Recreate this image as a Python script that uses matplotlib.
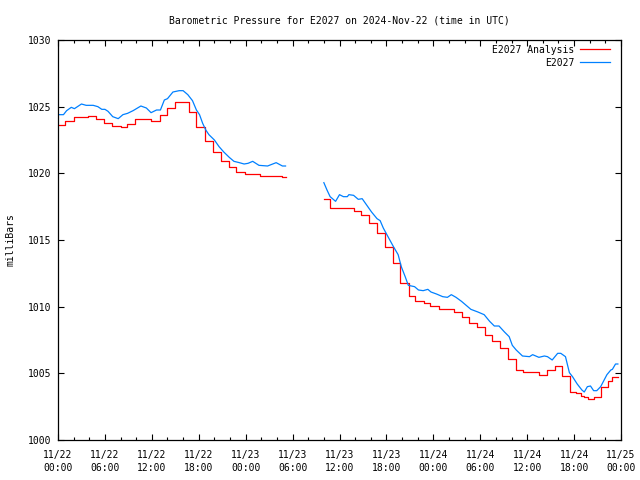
import numpy as np
import pandas as pd
import matplotlib
matplotlib.use("Agg")
import matplotlib.pyplot as plt
import matplotlib.dates as mdates

# ---- data (hours after 2024-11-22 00:00 UTC, pressure in mb) ----
analysis_hours_1 = [0.0, 0.9, 2.0, 3.8, 4.8, 5.9, 6.9, 8.0, 8.8, 9.8, 11.9, 13.0, 13.9,
                    14.9, 16.8, 17.6, 18.8, 19.8, 20.8, 21.9, 22.8, 23.9, 25.8, 28.6, 29.1]
analysis_vals_1 = [1023.63, 1023.95, 1024.2, 1024.3, 1024.1, 1023.8, 1023.55, 1023.45,
                   1023.7, 1024.05, 1023.95, 1024.4, 1024.9, 1025.35, 1024.6, 1023.45,
                   1022.4, 1021.6, 1020.9, 1020.45, 1020.1, 1019.95, 1019.8, 1019.7, 1019.7]
analysis_hours_2 = [34.0, 34.8, 37.8, 38.7, 39.8, 40.8, 41.8, 42.8, 43.7, 44.9, 45.7, 46.8,
                    47.6, 48.7, 50.6, 51.7, 52.5, 53.6, 54.6, 55.5, 56.5, 57.5, 58.6, 59.5,
                    61.5, 62.6, 63.5, 64.5, 65.5, 66.3, 66.9, 67.3, 67.8, 68.6, 69.4, 70.3,
                    70.8, 71.6]
analysis_vals_2 = [1018.1, 1017.4, 1017.2, 1016.9, 1016.25, 1015.55, 1014.45, 1013.3,
                   1011.8, 1010.8, 1010.45, 1010.25, 1010.05, 1009.8, 1009.6, 1009.2,
                   1008.75, 1008.45, 1007.9, 1007.4, 1006.9, 1006.05, 1005.25, 1005.1,
                   1004.9, 1005.25, 1005.55, 1004.8, 1003.6, 1003.5, 1003.3, 1003.2,
                   1003.05, 1003.25, 1004.0, 1004.4, 1004.7, 1004.7]

obs_hours_1 = [0.0, 0.7, 1.1, 1.7, 2.1, 3.0, 3.6, 4.5, 5.1, 5.6, 6.0, 6.4, 7.0, 7.7, 8.3,
               8.9, 9.6, 10.6, 11.3, 11.9, 12.6, 13.1, 13.6, 14.0, 14.7, 15.5, 16.0, 16.6,
               17.2, 17.7, 18.1, 18.5, 18.9, 19.3, 20.0, 20.6, 21.2, 21.9, 22.5, 23.2,
               23.8, 24.3, 24.9, 25.7, 26.8, 27.9, 28.7, 29.1]
obs_vals_1 = [1024.4, 1024.4, 1024.7, 1024.95, 1024.85, 1025.2, 1025.1, 1025.1, 1025.0,
              1024.8, 1024.8, 1024.65, 1024.25, 1024.1, 1024.4, 1024.5, 1024.7, 1025.05,
              1024.9, 1024.55, 1024.75, 1024.75, 1025.5, 1025.6, 1026.1, 1026.2, 1026.2,
              1025.9, 1025.45, 1024.75, 1024.4, 1023.75, 1023.25, 1022.9, 1022.5, 1022.0,
              1021.6, 1021.2, 1020.9, 1020.8, 1020.7, 1020.75, 1020.9, 1020.6, 1020.55,
              1020.8, 1020.55, 1020.55]
obs_hours_2 = [34.0, 34.4, 34.8, 35.5, 36.0, 36.5, 37.0, 37.2, 37.8, 38.4, 38.9, 39.5,
               40.1, 40.8, 41.2, 41.6, 42.2, 42.9, 43.5, 43.9, 44.4, 44.8, 45.6, 46.1,
               46.7, 47.3, 47.7, 48.4, 49.2, 49.8, 50.3, 50.9, 51.6, 52.2, 52.8, 53.7,
               54.5, 55.2, 55.8, 56.4, 57.1, 57.7, 58.1, 58.6, 59.4, 60.3, 60.7, 61.5,
               62.2, 62.6, 63.2, 63.9, 64.3, 64.9, 65.4, 65.8, 66.4, 67.0, 67.3, 67.7,
               68.1, 68.5, 68.9, 69.4, 69.8, 70.2, 70.7, 70.9, 71.3, 71.6]
obs_vals_2 = [1019.3, 1018.75, 1018.25, 1017.9, 1018.4, 1018.25, 1018.25, 1018.4, 1018.35,
              1018.05, 1018.1, 1017.6, 1017.1, 1016.6, 1016.45, 1015.9, 1015.25, 1014.5,
              1013.9, 1013.0, 1012.25, 1011.6, 1011.5, 1011.25, 1011.2, 1011.3, 1011.1,
              1010.95, 1010.75, 1010.7, 1010.9, 1010.7, 1010.4, 1010.1, 1009.8, 1009.6,
              1009.4, 1008.9, 1008.55, 1008.55, 1008.1, 1007.75, 1007.1, 1006.75, 1006.3,
              1006.25, 1006.4, 1006.2, 1006.3, 1006.25, 1006.0, 1006.5, 1006.5, 1006.25,
              1005.05, 1004.75, 1004.2, 1003.75, 1003.6, 1004.0, 1004.05, 1003.7, 1003.7,
              1004.0, 1004.45, 1004.9, 1005.25, 1005.3, 1005.7, 1005.7]

title = "Barometric Pressure for E2027 on 2024-Nov-22 (time in UTC)"
ylabel = "milliBars"
labels = ["E2027 Analysis", "E2027"]
start = pd.Timestamp("2024-11-22 00:00")
end = pd.Timestamp("2024-11-25 00:00")
y_min, y_max = 1000, 1030
red = "#ff0000"
blue = "#0080ff"

def to_times(hours):
    return pd.to_datetime([start + pd.Timedelta(hours=h) for h in hours])

plt.rcParams['font.family'] = ['DejaVu Sans Mono']
fs = 7
lw = 0.9

fig = plt.figure(figsize=(6.4, 4.8), dpi=100)
ax = fig.add_axes([58/640, 40/480, (621-58)/640, 400/480])

ax.plot(to_times(analysis_hours_1), analysis_vals_1, color=red, lw=lw,
        drawstyle="steps-post", label=labels[0])
ax.plot(to_times(analysis_hours_2), analysis_vals_2, color=red, lw=lw,
        drawstyle="steps-post")
ax.plot(to_times(obs_hours_1), obs_vals_1, color=blue, lw=lw, label=labels[1])
ax.plot(to_times(obs_hours_2), obs_vals_2, color=blue, lw=lw)

ax.set_xlim(start, end)
ax.set_ylim(y_min, y_max)
ax.set_yticks(np.arange(y_min, y_max + 1, 5))
ax.xaxis.set_major_locator(mdates.HourLocator(byhour=[0, 6, 12, 18]))
ax.xaxis.set_minor_locator(mdates.HourLocator(byhour=range(0, 24, 2)))
ax.xaxis.set_major_formatter(mdates.DateFormatter("%m/%d\n%H:%M"))

ax.tick_params(axis='both', which='both', direction='in', top=True, right=True,
               labelsize=fs, width=0.8)
ax.tick_params(axis='both', which='major', length=4.5)
ax.tick_params(axis='x', which='minor', length=2.5)
ax.tick_params(axis='x', which='major', pad=7)
ax.tick_params(axis='y', which='major', pad=5)
for lab in ax.get_xticklabels():
    lab.set_linespacing(1.45)
for s in ax.spines.values():
    s.set_linewidth(0.9)

ax.set_title(title, fontsize=fs, pad=12)
ax.set_ylabel(ylabel, fontsize=fs, labelpad=9)

leg = ax.legend(loc="upper right", bbox_to_anchor=(0.9805, 0.988), frameon=False,
                markerfirst=False, fontsize=fs, handlelength=3.1, handletextpad=0.6,
                borderpad=0, borderaxespad=0, labelspacing=0.3)
for t in leg.get_texts():
    t.set_ha("right")

fig.savefig("out.png", dpi=100)
